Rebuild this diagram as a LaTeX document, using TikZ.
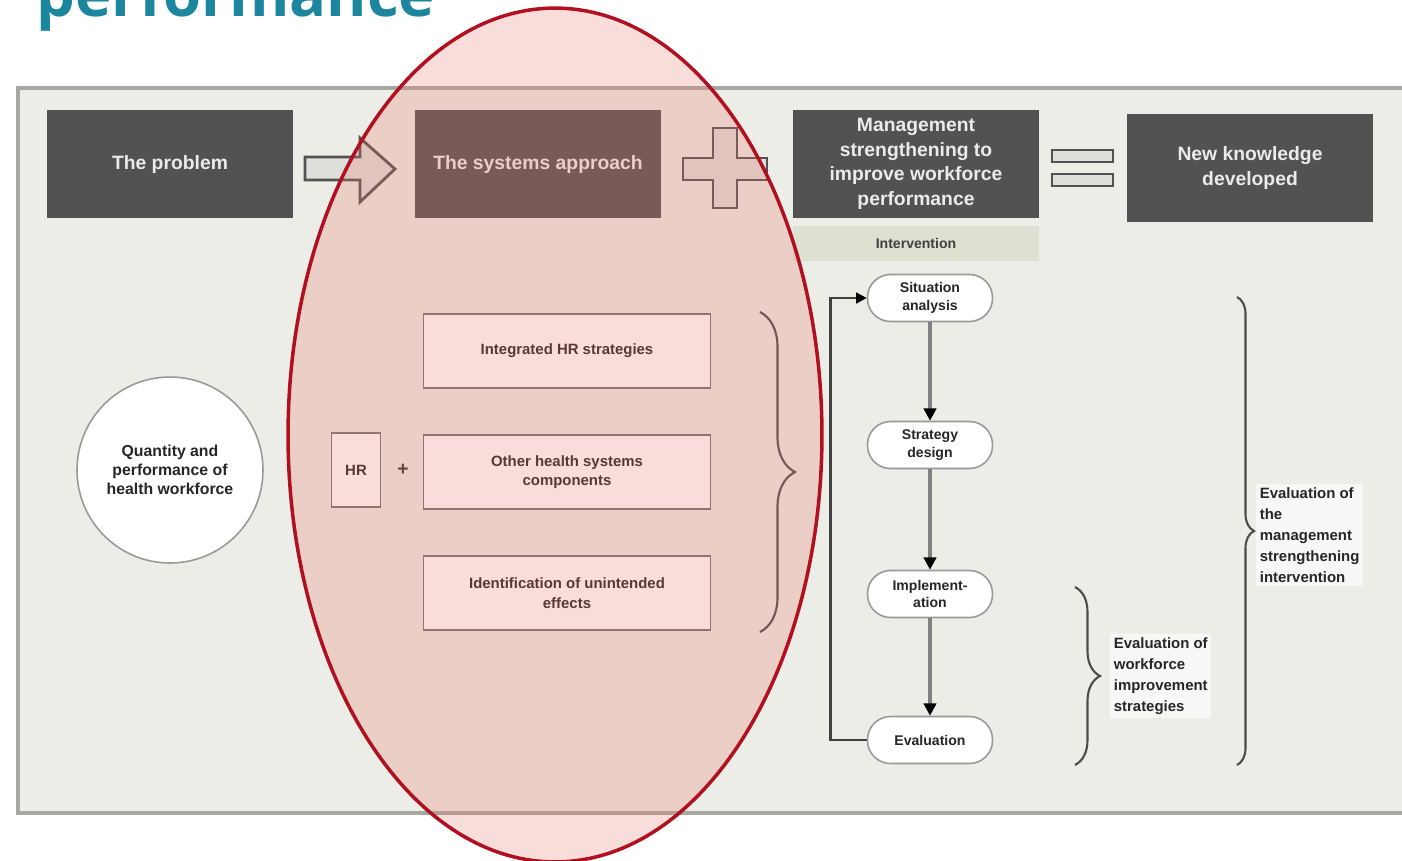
\documentclass[tikz,border=0pt]{standalone}
\usepackage{fontspec}
\setmainfont{Liberation Sans}
\newfontfamily\titlefont{Open Sans}
\usetikzlibrary{arrows.meta}
\usetikzlibrary{decorations.pathreplacing}
\definecolor{panelbg}{RGB}{235,237,230}
\definecolor{panelrule}{RGB}{168,168,160}
\definecolor{boxdark}{RGB}{82,82,82}
\definecolor{titleteal}{RGB}{28,134,158}
\definecolor{ringred}{RGB}{176,16,32}
\definecolor{tintred}{RGB}{235,120,110}
\definecolor{intervbg}{RGB}{222,225,210}
\definecolor{symbolbg}{RGB}{222,222,218}

\tikzset{
  darkbox/.style={fill=boxdark, text=white!92!black, font=\bfseries\fontsize{11}{14}\selectfont,
    align=center, minimum width=4.92cm, minimum height=2.16cm, inner sep=0pt},
  lightbox/.style={draw=black!55, line width=0.8pt, fill=white, text=black!85,
    font=\bfseries\fontsize{8.5}{11}\selectfont, align=center,
    minimum width=5.74cm, minimum height=1.48cm, inner sep=1pt},
  flowstep/.style={draw=black!40, line width=0.9pt, fill=white, rounded corners=0.46cm,
    minimum width=2.5cm, minimum height=0.94cm, text=black!85,
    font=\bfseries\fontsize{8}{10}\selectfont, align=center, inner sep=1pt},
  flowarrow/.style={draw=black!50, line width=2pt, -{Triangle[length=7pt,width=7pt,color=black]}},
  looparrow/.style={draw=black!75, line width=1.5pt, -{Triangle[length=6pt,width=6pt,color=black]}},
  evalbrace/.style={decorate, decoration={brace, amplitude=#1}, draw=black!70, line width=1.2pt},
  evallabel/.style={fill=white!60!panelbg, text=black!85, font=\bfseries\fontsize{8.5}{12}\selectfont,
    align=left, anchor=west, inner sep=2pt},
  symbol/.style={draw=boxdark, line width=1.6pt, fill=symbolbg},
}

\begin{document}
\begin{tikzpicture}[x=0.02cm, y=-0.02cm]
\clip (0,0) rectangle (1402,860);
\fill[white] (0,0) rectangle (1402,860);
\node[anchor=base west, inner sep=0pt, text=titleteal,
  font=\titlefont\bfseries\fontsize{35}{40}\selectfont] (title) at (36,16) {performance}; % cut off at the top
\draw[panelrule, line width=2.5pt, fill=panelbg] (18,88) rectangle (1430,813);

% top row
\node[darkbox] (problem) at (170,164) {The problem};
\node[darkbox] (systems) at (538,164) {The systems approach};
\node[darkbox, minimum width=4.94cm] (mgmt) at (916,164) {Management\\strengthening to\\improve workforce\\performance};
\node[darkbox, fill=intervbg, text=black!75, font=\bfseries\fontsize{8}{10}\selectfont,
  minimum height=0.7cm, minimum width=4.94cm] (interv) at (916,243) {Intervention};
\node[darkbox] (knowledge) at (1250,168) {New knowledge\\developed};
\draw[symbol] (305,157) -- (360,157) -- (360,138) -- (395,169) -- (360,202) -- (360,180) -- (305,180) -- cycle; % arrow
\draw[symbol] (713,128) -- (737,128) -- (737,158) -- (767,158) -- (767,180) -- (737,180) -- (737,208)
  -- (713,208) -- (713,180) -- (683,180) -- (683,158) -- (713,158) -- cycle; % plus
\draw[symbol] (1052,150) rectangle (1113,162); % equals
\draw[symbol] (1052,174) rectangle (1113,186);

% left part
\node[circle, draw=black!40, line width=0.9pt, fill=white, minimum size=3.72cm, align=center,
  font=\bfseries\fontsize{9}{11}\selectfont, text=black!85] (workforce) at (170,470)
  {Quantity and\\performance of\\health workforce};
\node[lightbox] (integrated) at (567,351) {Integrated HR strategies};
\node[lightbox] (components) at (567,472) {Other health systems\\components};
\node[lightbox] (unintended) at (567,593) {Identification of unintended\\effects};
\node[lightbox, minimum width=0.98cm] (hr) at (356,470) {HR};
\node[font=\bfseries\fontsize{11}{11}\selectfont, text=black!80] (hrplus) at (403,470) {+};
\coordinate (gtop) at (760,312);
\coordinate (gbot) at (760,632);
\draw[evalbrace=0.7cm] (gtop) -- (gbot);

% cycle of the intervention
\node[flowstep] (situation) at (930,298) {Situation\\analysis};
\node[flowstep] (strategy) at (930,445) {Strategy\\design};
\node[flowstep] (implement) at (930,594) {Implement-\\ation};
\node[flowstep] (evaluation) at (930,740) {Evaluation};
\draw[flowarrow] (situation) -- (strategy);
\draw[flowarrow] (strategy) -- (implement);
\draw[flowarrow] (implement) -- (evaluation);
\draw[looparrow] (evaluation.west) -- ++(-36,0) |- (situation.west);

% evaluation braces
\coordinate (stop) at (1075,587);
\coordinate (sbot) at (1075,765);
\draw[evalbrace=0.5cm] (stop) -- (sbot);
\node[evallabel] (evalstrat) at (1110,676) {Evaluation of\\workforce\\improvement\\strategies};
\coordinate (btop) at (1237,297);
\coordinate (bbot) at (1237,765);
\draw[evalbrace=0.34cm] (btop) -- (bbot);
\node[evallabel] (evalinterv) at (1256,535) {Evaluation of\\the\\management\\strengthening\\intervention};

% red ring over the systems approach
\fill[tintred, fill opacity=0.25] (555,435) ellipse [x radius=5.34cm, y radius=8.54cm];
\draw[ringred, line width=2pt] (555,435) ellipse [x radius=5.34cm, y radius=8.54cm];
\end{tikzpicture}
\end{document}
